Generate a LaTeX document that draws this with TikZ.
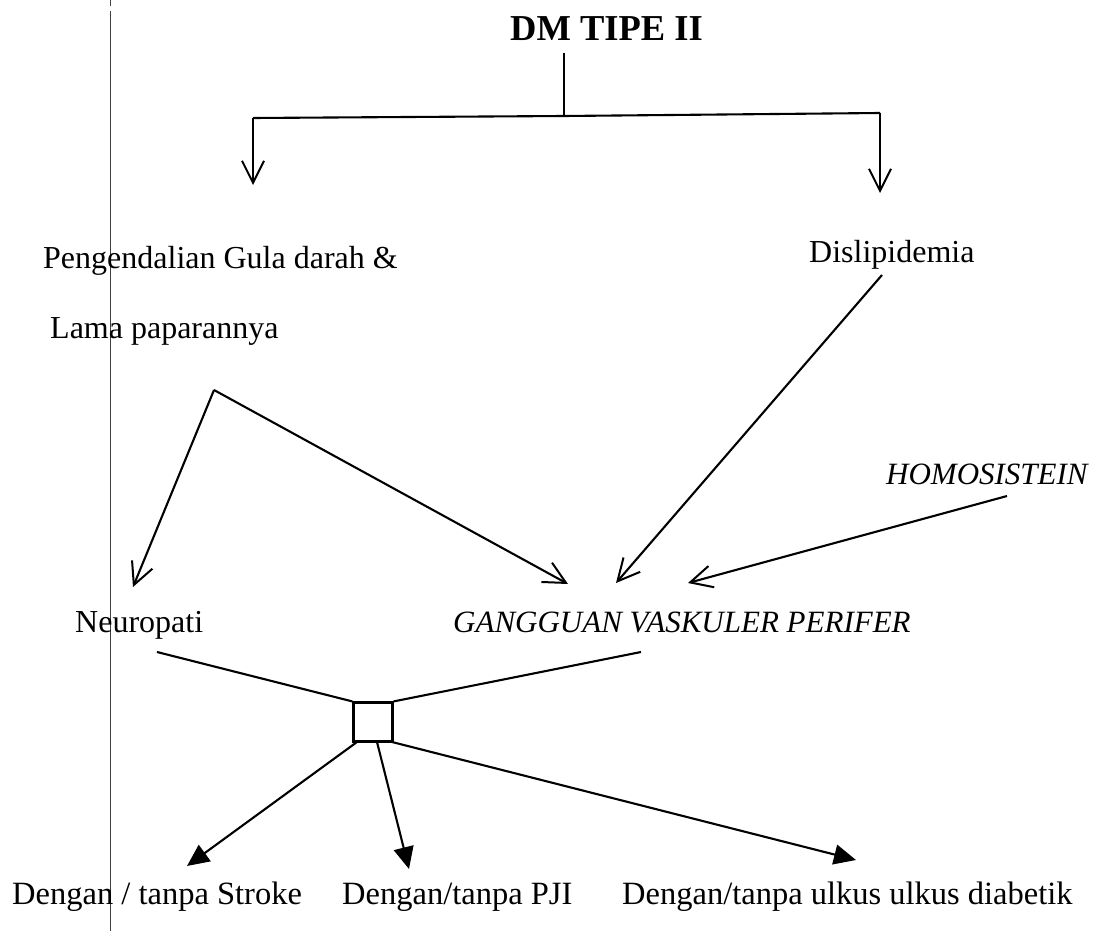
\documentclass[tikz,border=0pt]{standalone}
\usepackage{fontspec}
\setmainfont{Liberation Serif}
\usetikzlibrary{arrows.meta}
\begin{document}
\begin{tikzpicture}[x=1pt,y=-1pt,
  conn/.style={line width=2.1pt, black},
  openarr/.style={conn, -{Straight Barb[length=22pt,width=22pt,line width=2pt]}},
  fillarr/.style={conn, -{Triangle[length=22pt,width=20pt]}},
  lbl/.style={inner sep=0pt, anchor=base west, font=\fontsize{32}{38}\selectfont},
  ilbl/.style={lbl, font=\fontsize{31}{38}\selectfont\itshape},
  blbl/.style={lbl, font=\fontsize{32.5}{38}\selectfont},
  ttl/.style={inner sep=0pt, anchor=base west, font=\fontsize{36.5}{44}\selectfont\bfseries},
  margin/.style={line width=1pt, black!75}
]
\useasboundingbox (0,0) rectangle (1104,931);
% margin rule of the page
\coordinate (m0) at (110,0);
\coordinate (m1) at (110,6);
\coordinate (m2) at (110,11);
\coordinate (m3) at (110,931);
\draw[margin] (m0) -- (m1);
\draw[margin] (m2) -- (m3);

% texts
\node[ttl] (title) at (510,41) {DM TIPE II};
\node[lbl] (pgd1) at (43,268) {Pengendalian Gula darah \&};
\node[lbl] (pgd2) at (50,338) {Lama paparannya};
\node[lbl] (disl) at (809,262) {Dislipidemia};
\node[ilbl] (homo) at (886,484) {HOMOSISTEIN};
\node[lbl] (neuro) at (75,632) {Neuropati};
\node[ilbl] (gvp) at (453,632) {GANGGUAN VASKULER PERIFER};
\node[blbl] (stroke) at (12,904) {Dengan / tanpa Stroke};
\node[blbl] (pji) at (342,904) {Dengan/tanpa PJI};
\node[blbl] (ulkus) at (622,904) {Dengan/tanpa ulkus ulkus diabetik};

% junction box
\node[draw, line width=2.1pt, minimum width=39pt, minimum height=39pt, inner sep=0pt] (box) at (373,722) {};

% coordinates
\coordinate (t0) at (564,53);
\coordinate (tm) at (564,116);
\coordinate (bl) at (253,118);
\coordinate (br) at (880,113);
\coordinate (tipP) at (253,185);
\coordinate (tipD) at (880,193);
\coordinate (apex) at (214,390);
\coordinate (disS) at (882,275);
\coordinate (homS) at (1007,496);
\coordinate (tipN) at (133,587);
\coordinate (tipG1) at (568,584);
\coordinate (tipG2) at (616,583);
\coordinate (tipG3) at (688,583);
\coordinate (nS) at (157,652);
\coordinate (gS) at (641,652);
\coordinate (b1) at (357,742);
\coordinate (b2) at (377,742);
\coordinate (b3) at (392,742);
\coordinate (tipS) at (187,866);
\coordinate (tipJ) at (409,869);
\coordinate (tipU) at (856,860);

% top tree
\draw[conn] (t0) -- (tm);
\draw[conn] (bl) -- (tm) -- (br);
\draw[openarr] (bl) -- (tipP);
\draw[openarr] (br) -- (tipD);

% middle arrows
\draw[openarr] (apex) -- (tipN);
\draw[openarr] (apex) -- (tipG1);
\draw[openarr] (disS) -- (tipG2);
\draw[openarr] (homS) -- (tipG3);

% to junction box
\draw[conn] (nS) -- (box.north west);
\draw[conn] (gS) -- (box.north east);

% bottom arrows
\draw[fillarr] (b1) -- (tipS);
\draw[fillarr] (b2) -- (tipJ);
\draw[fillarr] (b3) -- (tipU);
\end{tikzpicture}
\end{document}
